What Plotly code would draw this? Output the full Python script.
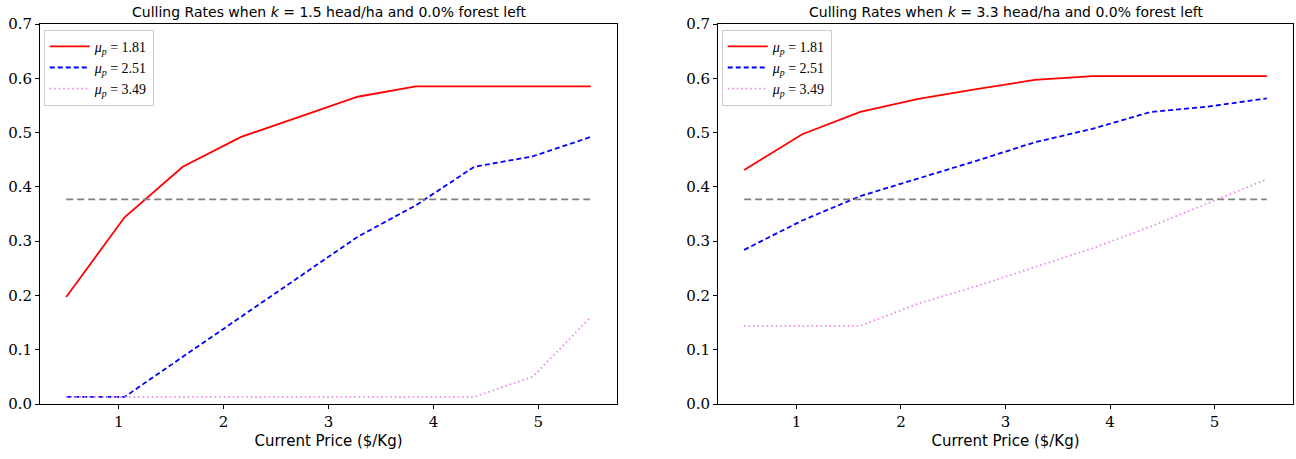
import numpy as np
import plotly.graph_objects as go

price = [0.5, 1.056, 1.611, 2.167, 2.722, 3.278, 3.833, 4.389, 4.944, 5.5]

# k = 1.5
left_181 = [0.197, 0.344, 0.437, 0.492, 0.529, 0.566, 0.585, 0.585, 0.585, 0.585]
left_251 = [0.013, 0.013, 0.087, 0.161, 0.235, 0.308, 0.366, 0.437, 0.456, 0.492]
left_349 = [0.013, 0.013, 0.013, 0.013, 0.013, 0.013, 0.013, 0.013, 0.050, 0.160]
left_ref = 0.377

# k = 3.3
right_181 = [0.431, 0.497, 0.538, 0.562, 0.580, 0.597, 0.604, 0.604, 0.604, 0.604]
right_251 = [0.284, 0.338, 0.383, 0.415, 0.448, 0.482, 0.507, 0.538, 0.548, 0.563]
right_349 = [0.144, 0.144, 0.144, 0.185, 0.217, 0.252, 0.287, 0.327, 0.370, 0.414]
right_ref = 0.377

titles = ["Culling Rates when <i>k</i> = 1.5 head/ha and 0.0% forest left",
          "Culling Rates when <i>k</i> = 3.3 head/ha and 0.0% forest left"]
labels = ["<i>μ<sub>p</sub></i> = 1.81", "<i>μ<sub>p</sub></i> = 2.51", "<i>μ<sub>p</sub></i> = 3.49"]
yticks = [0.0, 0.1, 0.2, 0.3, 0.4, 0.5, 0.6, 0.7]
xticks = [1, 2, 3, 4, 5]

styles = [dict(color="red", width=1.8, dash="solid"),
          dict(color="blue", width=1.8, dash="5px,3px"),
          dict(color="violet", width=1.8, dash="1.5px,3px")]

fig = go.Figure()
panels = [(left_181, left_251, left_349, left_ref), (right_181, right_251, right_349, right_ref)]
for i, (a, b, c, ref) in enumerate(panels):
    xa = "x" if i == 0 else "x2"
    ya = "y" if i == 0 else "y2"
    lg = "legend" if i == 0 else "legend2"
    for series, st, lab in zip([a, b, c], styles, labels):
        fig.add_trace(go.Scatter(x=price, y=series, mode="lines", line=st, name=lab,
                                 xaxis=xa, yaxis=ya, legend=lg))
    fig.add_trace(go.Scatter(x=[price[0], price[-1]], y=[ref, ref], mode="lines",
                             line=dict(color="gray", width=1.8, dash="7px,4px"),
                             showlegend=False, xaxis=xa, yaxis=ya))

tickfont = dict(family="DejaVu Serif, Liberation Serif, serif", size=15, color="black")
axis_common = dict(showline=True, linecolor="black", linewidth=1, mirror=True,
                   ticks="outside", ticklen=4, tickcolor="black", showgrid=False,
                   zeroline=False, tickfont=tickfont)

dom1 = [0, 577 / 1253]
dom2 = [678 / 1253, 1]
legfont = dict(family="Liberation Serif, serif", size=14)
fig.update_layout(
    width=1296, height=459,
    margin=dict(l=40, r=3, t=24, b=55),
    paper_bgcolor="white", plot_bgcolor="white",
    font=dict(family="DejaVu Sans, sans-serif", color="black"),
    xaxis=dict(domain=dom1, range=[0.25, 5.75], tickvals=xticks, anchor="y",
               title=dict(text="Current Price ($/Kg)", font=dict(size=15), standoff=5), **axis_common),
    yaxis=dict(domain=[0, 1], range=[0, 0.7], tickvals=yticks, tickformat=".1f", anchor="x", **axis_common),
    xaxis2=dict(domain=dom2, range=[0.25, 5.75], tickvals=xticks, anchor="y2",
                title=dict(text="Current Price ($/Kg)", font=dict(size=15), standoff=5), **axis_common),
    yaxis2=dict(domain=[0, 1], range=[0, 0.7], tickvals=yticks, tickformat=".1f", anchor="x2", **axis_common),
    legend=dict(x=0.003, y=0.985, xanchor="left", yanchor="top", bordercolor="#cccccc", borderwidth=1,
                bgcolor="white", font=legfont, tracegroupgap=0, itemwidth=40),
    legend2=dict(x=dom2[0] + 0.003, y=0.985, xanchor="left", yanchor="top", bordercolor="#cccccc", borderwidth=1,
                 bgcolor="white", font=legfont, tracegroupgap=0, itemwidth=40),
    annotations=[
        dict(text=titles[0], x=sum(dom1) / 2, y=1, xref="paper", yref="paper", xanchor="center",
             yanchor="bottom", showarrow=False, yshift=2, font=dict(size=14)),
        dict(text=titles[1], x=sum(dom2) / 2, y=1, xref="paper", yref="paper", xanchor="center",
             yanchor="bottom", showarrow=False, yshift=2, font=dict(size=14)),
    ],
)

fig.write_html("out.html")
